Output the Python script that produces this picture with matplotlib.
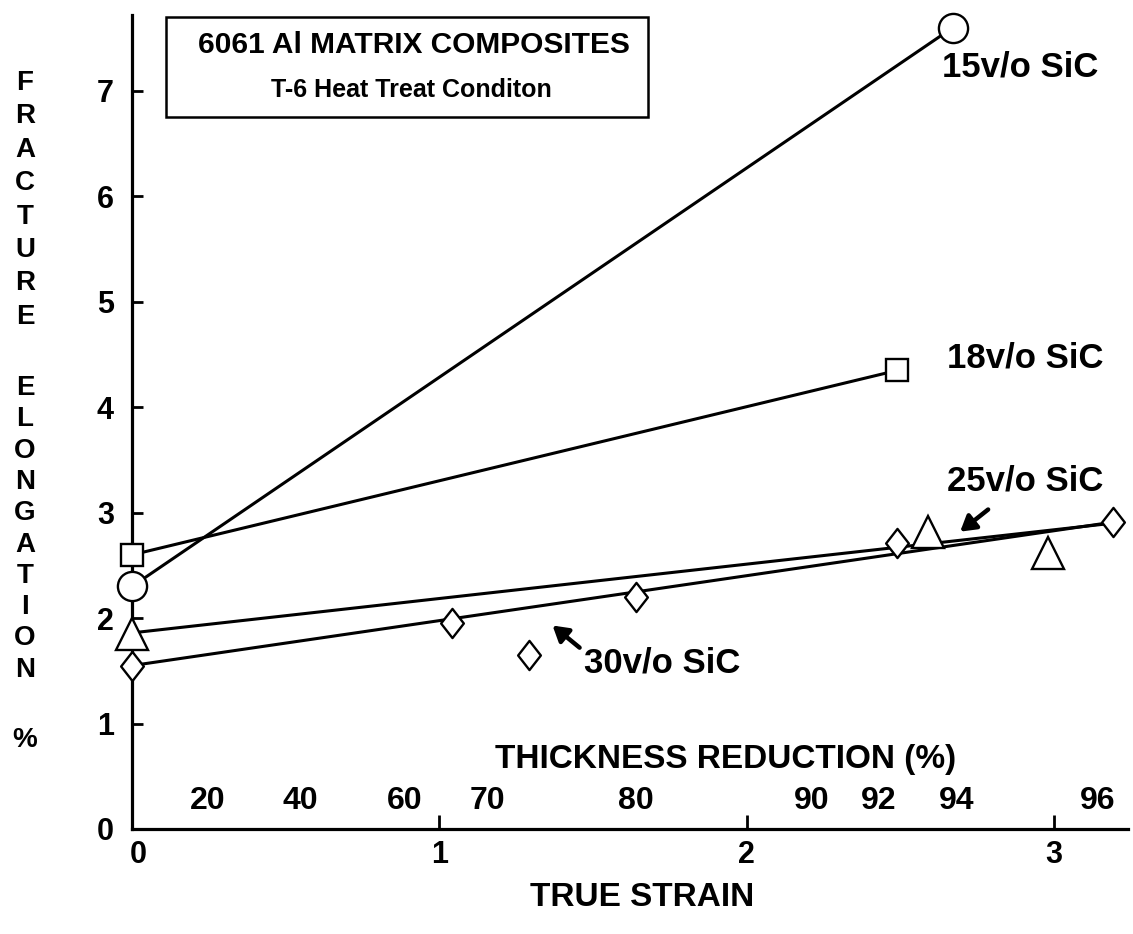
import matplotlib
matplotlib.use("Agg")
import matplotlib.pyplot as plt
import matplotlib.transforms as mtransforms
from matplotlib import font_manager as fm
from matplotlib.path import Path
from matplotlib.patches import Rectangle

# ---- data: fracture elongation (%) vs true strain ----
strain_15 = [0.0, 2.67]
elong_15 = [2.3, 7.6]

strain_18 = [0.0, 2.49]
elong_18 = [2.6, 4.35]

strain_25 = [0.0, 2.59, 2.98]
elong_25 = [1.85, 2.82, 2.62]
fit25_strain = [0.0, 3.19]
fit25_elong = [1.86, 2.90]

strain_30 = [0.0, 1.04, 1.29, 1.64, 2.49, 3.19]
elong_30 = [1.55, 1.95, 1.65, 2.20, 2.71, 2.91]
fit30_strain = [0.0, 3.19]
fit30_elong = [1.55, 2.91]

# thickness-reduction scale written along the strain axis
reduction_labels = ["20", "40", "60", "70", "80", "90", "92", "94", "96"]
reduction_pos = [0.247, 0.546, 0.887, 1.157, 1.638, 2.21, 2.43, 2.684, 3.14]

x_ticks = [0, 1, 2, 3]
y_ticks = [0, 1, 2, 3, 4, 5, 6, 7]

# ---- fonts ----
available = {f.name for f in fm.fontManager.ttflist}
BASE = "Liberation Sans"
HAS_NARROW = "Liberation Sans Narrow" in available
NARROW = "Liberation Sans Narrow" if HAS_NARROW else BASE
plt.rcParams["font.family"] = [BASE, "DejaVu Sans"]
plt.rcParams["font.weight"] = "bold"

W, H = 1133, 934


def fx(px):
    return px / W


def fy(py):
    return 1 - py / H


fig = plt.figure(figsize=(W / 100, H / 100), dpi=100)
ax = fig.add_axes([fx(132), fy(829), (1128 - 132) / W, (829 - 15) / H])
ax.set_xlim(0, 3.24)
ax.set_ylim(0, 7.72)

for side in ("top", "right"):
    ax.spines[side].set_visible(False)
for side in ("left", "bottom"):
    ax.spines[side].set_linewidth(2.3)

ax.set_xticks(x_ticks)
ax.set_yticks(y_ticks)
ax.set_xticklabels([str(v) for v in x_ticks])
ax.set_yticklabels([str(v) for v in y_ticks])
ax.tick_params(axis="y", direction="in", length=8, width=2, pad=13,
               labelsize=22)
ax.tick_params(axis="x", direction="in", length=10, width=2, pad=8,
               labelsize=22)
for lab in ax.get_xticklabels() + ax.get_yticklabels():
    lab.set_fontweight("bold")
# nudge the strain "0" label clear of the vertical axis
first = ax.get_xticklabels()[0]
first.set_transform(first.get_transform() +
                    mtransforms.ScaledTranslation(6 / 100, 0,
                                                  fig.dpi_scale_trans))

# open marker styles
diamond = Path([(0, 1), (0.78, 0), (0, -1), (-0.78, 0), (0, 1)],
               [Path.MOVETO, Path.LINETO, Path.LINETO, Path.LINETO,
                Path.CLOSEPOLY])
mk = dict(linestyle="none", markerfacecolor="white", markeredgecolor="black",
          markeredgewidth=1.7, zorder=4, clip_on=False)
ln = dict(color="black", linewidth=2.2, zorder=2, clip_on=False)

# fitted trend lines
ax.plot(strain_15, elong_15, **ln)
ax.plot(strain_18, elong_18, **ln)
ax.plot(fit25_strain, fit25_elong, **ln)
ax.plot(fit30_strain, fit30_elong, **ln)

# measured points
ax.plot(strain_15, elong_15, marker="o", markersize=21, **mk)
ax.plot(strain_18, elong_18, marker="s", markersize=16, **mk)
ax.plot(strain_25, elong_25, marker="^", markersize=23, **mk)
ax.plot(strain_30, elong_30, marker=diamond, markersize=21, **mk)

# series labels
lab_kw = dict(fontsize=25, fontweight="bold", ha="left", va="center",
              family=[BASE, "DejaVu Sans"])
ax.text(2.636, 7.23, "15v/o SiC", **lab_kw)
ax.text(2.65, 4.47, "18v/o SiC", **lab_kw)
ax.text(2.65, 3.30, "25v/o SiC", **lab_kw)
ax.text(1.47, 1.575, "30v/o SiC", **lab_kw)

arrow = dict(arrowstyle="-|>,head_length=0.5,head_width=0.3", lw=3.2,
             color="black", shrinkA=0, shrinkB=0, mutation_scale=18)
ax.annotate("", xy=(2.694, 2.82), xytext=(2.785, 3.03), arrowprops=arrow)
ax.annotate("", xy=(1.368, 1.93), xytext=(1.456, 1.72), arrowprops=arrow)

# thickness reduction scale
for lab, xp in zip(reduction_labels, reduction_pos):
    ax.text(xp, 0.27, lab, fontsize=23, fontweight="bold", ha="center",
            va="center", family=[BASE, "DejaVu Sans"])
ax.text(1.93, 0.655, "THICKNESS REDUCTION (%)",
        fontsize=28 if HAS_NARROW else 24, fontweight="bold",
        ha="center", va="center", family=[NARROW, "DejaVu Sans"])

# x-axis title
fig.text(fx(642), fy(898), "TRUE STRAIN", fontsize=28 if HAS_NARROW else 24,
         fontweight="bold", ha="center", va="center",
         family=[NARROW, "DejaVu Sans"])

# stacked y-axis title
letter_kw = dict(fontsize=20, fontweight="bold", ha="center", va="center",
                 family=[BASE, "DejaVu Sans"])
for i, ch in enumerate("FRACTURE"):
    fig.text(fx(25), fy(83 + i * 33.4), ch, **letter_kw)
for i, ch in enumerate("ELONGATION"):
    fig.text(fx(25), fy(388 + i * 31.3), ch, **letter_kw)
fig.text(fx(25), fy(740), "%", **letter_kw)

# title box
fig.patches.append(Rectangle((fx(166), fy(117)), (648 - 166) / W,
                             (117 - 17) / H, transform=fig.transFigure,
                             fill=False, edgecolor="black", linewidth=1.8))
fig.text(fx(414), fy(45), "6061 Al MATRIX COMPOSITES", fontsize=21.5,
         fontweight="bold", ha="center", va="center",
         family=[BASE, "DejaVu Sans"])
fig.text(fx(411), fy(90), "T-6 Heat Treat Conditon", fontsize=18,
         fontweight="bold", ha="center", va="center",
         family=[BASE, "DejaVu Sans"])

fig.savefig("out.png", dpi=100, facecolor="white")
